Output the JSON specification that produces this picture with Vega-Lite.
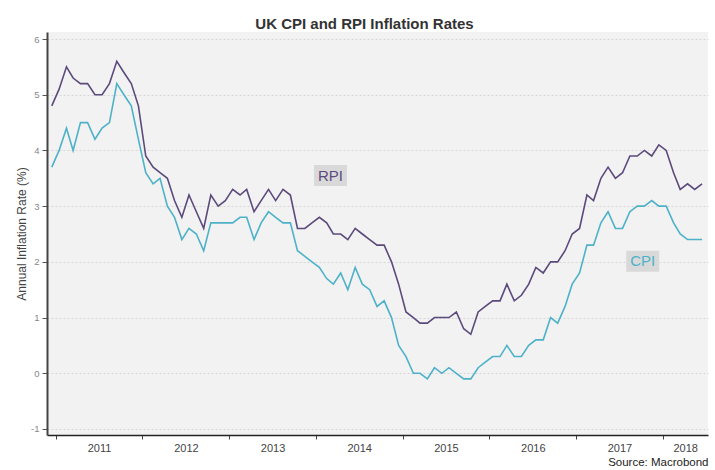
{
  "$schema": "https://vega.github.io/schema/vega-lite/v6.json",
  "width": 661,
  "height": 403,
  "autosize": "none",
  "padding": {"left": 47, "top": 32, "right": 7, "bottom": 35},
  "background": "white",
  "title": {"text": "UK CPI and RPI Inflation Rates", "anchor": "middle", "frame": "group", "fontSize": 15, "fontWeight": "bold", "color": "#333333", "font": "Liberation Sans", "dx": -13, "dy": 18, "offset": 3, "baseline": "bottom"},
  "config": {"view": {"fill": "#f2f2f2", "stroke": null}, "font": "Liberation Sans"},
  "datasets": {
    "series": [
      {"date":"2010-12-15","CPI":3.7,"RPI":4.8},
      {"date":"2011-01-15","CPI":4.0,"RPI":5.1},
      {"date":"2011-02-15","CPI":4.4,"RPI":5.5},
      {"date":"2011-03-15","CPI":4.0,"RPI":5.3},
      {"date":"2011-04-15","CPI":4.5,"RPI":5.2},
      {"date":"2011-05-15","CPI":4.5,"RPI":5.2},
      {"date":"2011-06-15","CPI":4.2,"RPI":5.0},
      {"date":"2011-07-15","CPI":4.4,"RPI":5.0},
      {"date":"2011-08-15","CPI":4.5,"RPI":5.2},
      {"date":"2011-09-15","CPI":5.2,"RPI":5.6},
      {"date":"2011-10-15","CPI":5.0,"RPI":5.4},
      {"date":"2011-11-15","CPI":4.8,"RPI":5.2},
      {"date":"2011-12-15","CPI":4.2,"RPI":4.8},
      {"date":"2012-01-15","CPI":3.6,"RPI":3.9},
      {"date":"2012-02-15","CPI":3.4,"RPI":3.7},
      {"date":"2012-03-15","CPI":3.5,"RPI":3.6},
      {"date":"2012-04-15","CPI":3.0,"RPI":3.5},
      {"date":"2012-05-15","CPI":2.8,"RPI":3.1},
      {"date":"2012-06-15","CPI":2.4,"RPI":2.8},
      {"date":"2012-07-15","CPI":2.6,"RPI":3.2},
      {"date":"2012-08-15","CPI":2.5,"RPI":2.9},
      {"date":"2012-09-15","CPI":2.2,"RPI":2.6},
      {"date":"2012-10-15","CPI":2.7,"RPI":3.2},
      {"date":"2012-11-15","CPI":2.7,"RPI":3.0},
      {"date":"2012-12-15","CPI":2.7,"RPI":3.1},
      {"date":"2013-01-15","CPI":2.7,"RPI":3.3},
      {"date":"2013-02-15","CPI":2.8,"RPI":3.2},
      {"date":"2013-03-15","CPI":2.8,"RPI":3.3},
      {"date":"2013-04-15","CPI":2.4,"RPI":2.9},
      {"date":"2013-05-15","CPI":2.7,"RPI":3.1},
      {"date":"2013-06-15","CPI":2.9,"RPI":3.3},
      {"date":"2013-07-15","CPI":2.8,"RPI":3.1},
      {"date":"2013-08-15","CPI":2.7,"RPI":3.3},
      {"date":"2013-09-15","CPI":2.7,"RPI":3.2},
      {"date":"2013-10-15","CPI":2.2,"RPI":2.6},
      {"date":"2013-11-15","CPI":2.1,"RPI":2.6},
      {"date":"2013-12-15","CPI":2.0,"RPI":2.7},
      {"date":"2014-01-15","CPI":1.9,"RPI":2.8},
      {"date":"2014-02-15","CPI":1.7,"RPI":2.7},
      {"date":"2014-03-15","CPI":1.6,"RPI":2.5},
      {"date":"2014-04-15","CPI":1.8,"RPI":2.5},
      {"date":"2014-05-15","CPI":1.5,"RPI":2.4},
      {"date":"2014-06-15","CPI":1.9,"RPI":2.6},
      {"date":"2014-07-15","CPI":1.6,"RPI":2.5},
      {"date":"2014-08-15","CPI":1.5,"RPI":2.4},
      {"date":"2014-09-15","CPI":1.2,"RPI":2.3},
      {"date":"2014-10-15","CPI":1.3,"RPI":2.3},
      {"date":"2014-11-15","CPI":1.0,"RPI":2.0},
      {"date":"2014-12-15","CPI":0.5,"RPI":1.6},
      {"date":"2015-01-15","CPI":0.3,"RPI":1.1},
      {"date":"2015-02-15","CPI":0.0,"RPI":1.0},
      {"date":"2015-03-15","CPI":0.0,"RPI":0.9},
      {"date":"2015-04-15","CPI":-0.1,"RPI":0.9},
      {"date":"2015-05-15","CPI":0.1,"RPI":1.0},
      {"date":"2015-06-15","CPI":0.0,"RPI":1.0},
      {"date":"2015-07-15","CPI":0.1,"RPI":1.0},
      {"date":"2015-08-15","CPI":0.0,"RPI":1.1},
      {"date":"2015-09-15","CPI":-0.1,"RPI":0.8},
      {"date":"2015-10-15","CPI":-0.1,"RPI":0.7},
      {"date":"2015-11-15","CPI":0.1,"RPI":1.1},
      {"date":"2015-12-15","CPI":0.2,"RPI":1.2},
      {"date":"2016-01-15","CPI":0.3,"RPI":1.3},
      {"date":"2016-02-15","CPI":0.3,"RPI":1.3},
      {"date":"2016-03-15","CPI":0.5,"RPI":1.6},
      {"date":"2016-04-15","CPI":0.3,"RPI":1.3},
      {"date":"2016-05-15","CPI":0.3,"RPI":1.4},
      {"date":"2016-06-15","CPI":0.5,"RPI":1.6},
      {"date":"2016-07-15","CPI":0.6,"RPI":1.9},
      {"date":"2016-08-15","CPI":0.6,"RPI":1.8},
      {"date":"2016-09-15","CPI":1.0,"RPI":2.0},
      {"date":"2016-10-15","CPI":0.9,"RPI":2.0},
      {"date":"2016-11-15","CPI":1.2,"RPI":2.2},
      {"date":"2016-12-15","CPI":1.6,"RPI":2.5},
      {"date":"2017-01-15","CPI":1.8,"RPI":2.6},
      {"date":"2017-02-15","CPI":2.3,"RPI":3.2},
      {"date":"2017-03-15","CPI":2.3,"RPI":3.1},
      {"date":"2017-04-15","CPI":2.7,"RPI":3.5},
      {"date":"2017-05-15","CPI":2.9,"RPI":3.7},
      {"date":"2017-06-15","CPI":2.6,"RPI":3.5},
      {"date":"2017-07-15","CPI":2.6,"RPI":3.6},
      {"date":"2017-08-15","CPI":2.9,"RPI":3.9},
      {"date":"2017-09-15","CPI":3.0,"RPI":3.9},
      {"date":"2017-10-15","CPI":3.0,"RPI":4.0},
      {"date":"2017-11-15","CPI":3.1,"RPI":3.9},
      {"date":"2017-12-15","CPI":3.0,"RPI":4.1},
      {"date":"2018-01-15","CPI":3.0,"RPI":4.0},
      {"date":"2018-02-15","CPI":2.7,"RPI":3.6},
      {"date":"2018-03-15","CPI":2.5,"RPI":3.3},
      {"date":"2018-04-15","CPI":2.4,"RPI":3.4},
      {"date":"2018-05-15","CPI":2.4,"RPI":3.3},
      {"date":"2018-06-15","CPI":2.4,"RPI":3.4}
    ],
    "labels": [
      {"date":"2014-03-03","value":3.55,"label":"RPI"},
      {"date":"2017-10-08","value":2.01,"label":"CPI"}
    ]
  },
  "layer": [
    {
      "data": {"name": "series"},
      "mark": {"type": "line", "color": "#4db2c9", "strokeWidth": 1.6},
      "encoding": {
        "x": {
          "field": "date", "type": "temporal", "title": "Source: Macrobond",
          "scale": {"type": "utc", "domain": [{"year":2010,"month":11,"date":25,"utc":true},{"year":2018,"month":7,"date":10,"utc":true}]},
          "axis": {
            "values": [
              {"year":2011,"month":1,"date":1,"utc":true},{"year":2012,"month":1,"date":1,"utc":true},{"year":2013,"month":1,"date":1,"utc":true},{"year":2014,"month":1,"date":1,"utc":true},{"year":2015,"month":1,"date":1,"utc":true},{"year":2016,"month":1,"date":1,"utc":true},{"year":2017,"month":1,"date":1,"utc":true},{"year":2018,"month":1,"date":1,"utc":true},
              {"year":2011,"month":7,"date":2,"utc":true},{"year":2012,"month":7,"date":2,"utc":true},{"year":2013,"month":7,"date":2,"utc":true},{"year":2014,"month":7,"date":2,"utc":true},{"year":2015,"month":7,"date":2,"utc":true},{"year":2016,"month":7,"date":2,"utc":true},{"year":2017,"month":7,"date":2,"utc":true},{"year":2018,"month":4,"date":5,"utc":true}
            ],
            "labelExpr": "(utcdate(datum.value) == 1 && utcmonth(datum.value) == 0) ? '' : utcFormat(datum.value, '%Y')",
            "tickOpacity": {"condition": {"test": "utcdate(datum.value) == 1 && utcmonth(datum.value) == 0", "value": 1}, "value": 0},
            "grid": false,
            "labelOverlap": false,
            "labelFlush": false,
            "domainColor": "#222222",
            "domainWidth": 1.5,
            "tickColor": "#444444",
            "tickSize": 4,
            "labelColor": "#444444",
            "labelFontSize": 11,
            "labelPadding": 3,
            "titleAnchor": "end",
            "titleFontSize": 11.5,
            "titleFontWeight": "normal",
            "titleColor": "#222222",
            "titlePadding": 3
          }
        },
        "y": {
          "field": "CPI", "type": "quantitative", "title": "Annual Inflation Rate (%)",
          "scale": {"domain": [-1.108, 6.126], "nice": false, "zero": false},
          "axis": {
            "values": [-1, 0, 1, 2, 3, 4, 5, 6],
            "labelExpr": "'' + datum.value",
            "grid": true,
            "gridColor": "#d6d6d6",
            "gridDash": [2, 2],
            "gridWidth": 1,
            "domainColor": "#444444",
            "domainWidth": 2,
            "tickColor": "#555555",
            "tickSize": 5,
            "labelColor": "#888888",
            "labelFontSize": 9.5,
            "labelPadding": 3,
            "titleColor": "#444444",
            "titleFontSize": 12,
            "titleFontWeight": "normal",
            "titlePadding": 2
          }
        }
      }
    },
    {
      "data": {"name": "series"},
      "mark": {"type": "line", "color": "#5c4a7d", "strokeWidth": 1.6},
      "encoding": {
        "x": {"field": "date", "type": "temporal", "title": "Source: Macrobond"},
        "y": {"field": "RPI", "type": "quantitative", "title": "Annual Inflation Rate (%)"}
      }
    },
    {
      "data": {"name": "labels"},
      "mark": {"type": "rect", "width": 33, "height": 21, "color": "#d9d9d9"},
      "encoding": {
        "x": {"field": "date", "type": "temporal", "title": "Source: Macrobond"},
        "y": {"field": "value", "type": "quantitative", "title": "Annual Inflation Rate (%)"}
      }
    },
    {
      "data": {"name": "labels"},
      "mark": {"type": "text", "fontSize": 15, "align": "center", "baseline": "middle"},
      "encoding": {
        "x": {"field": "date", "type": "temporal", "title": "Source: Macrobond"},
        "y": {"field": "value", "type": "quantitative", "title": "Annual Inflation Rate (%)"},
        "text": {"field": "label"},
        "color": {"field": "label", "type": "nominal", "scale": {"domain": ["RPI", "CPI"], "range": ["#5c4a7d", "#4db2c9"]}, "legend": null}
      }
    }
  ]
}
